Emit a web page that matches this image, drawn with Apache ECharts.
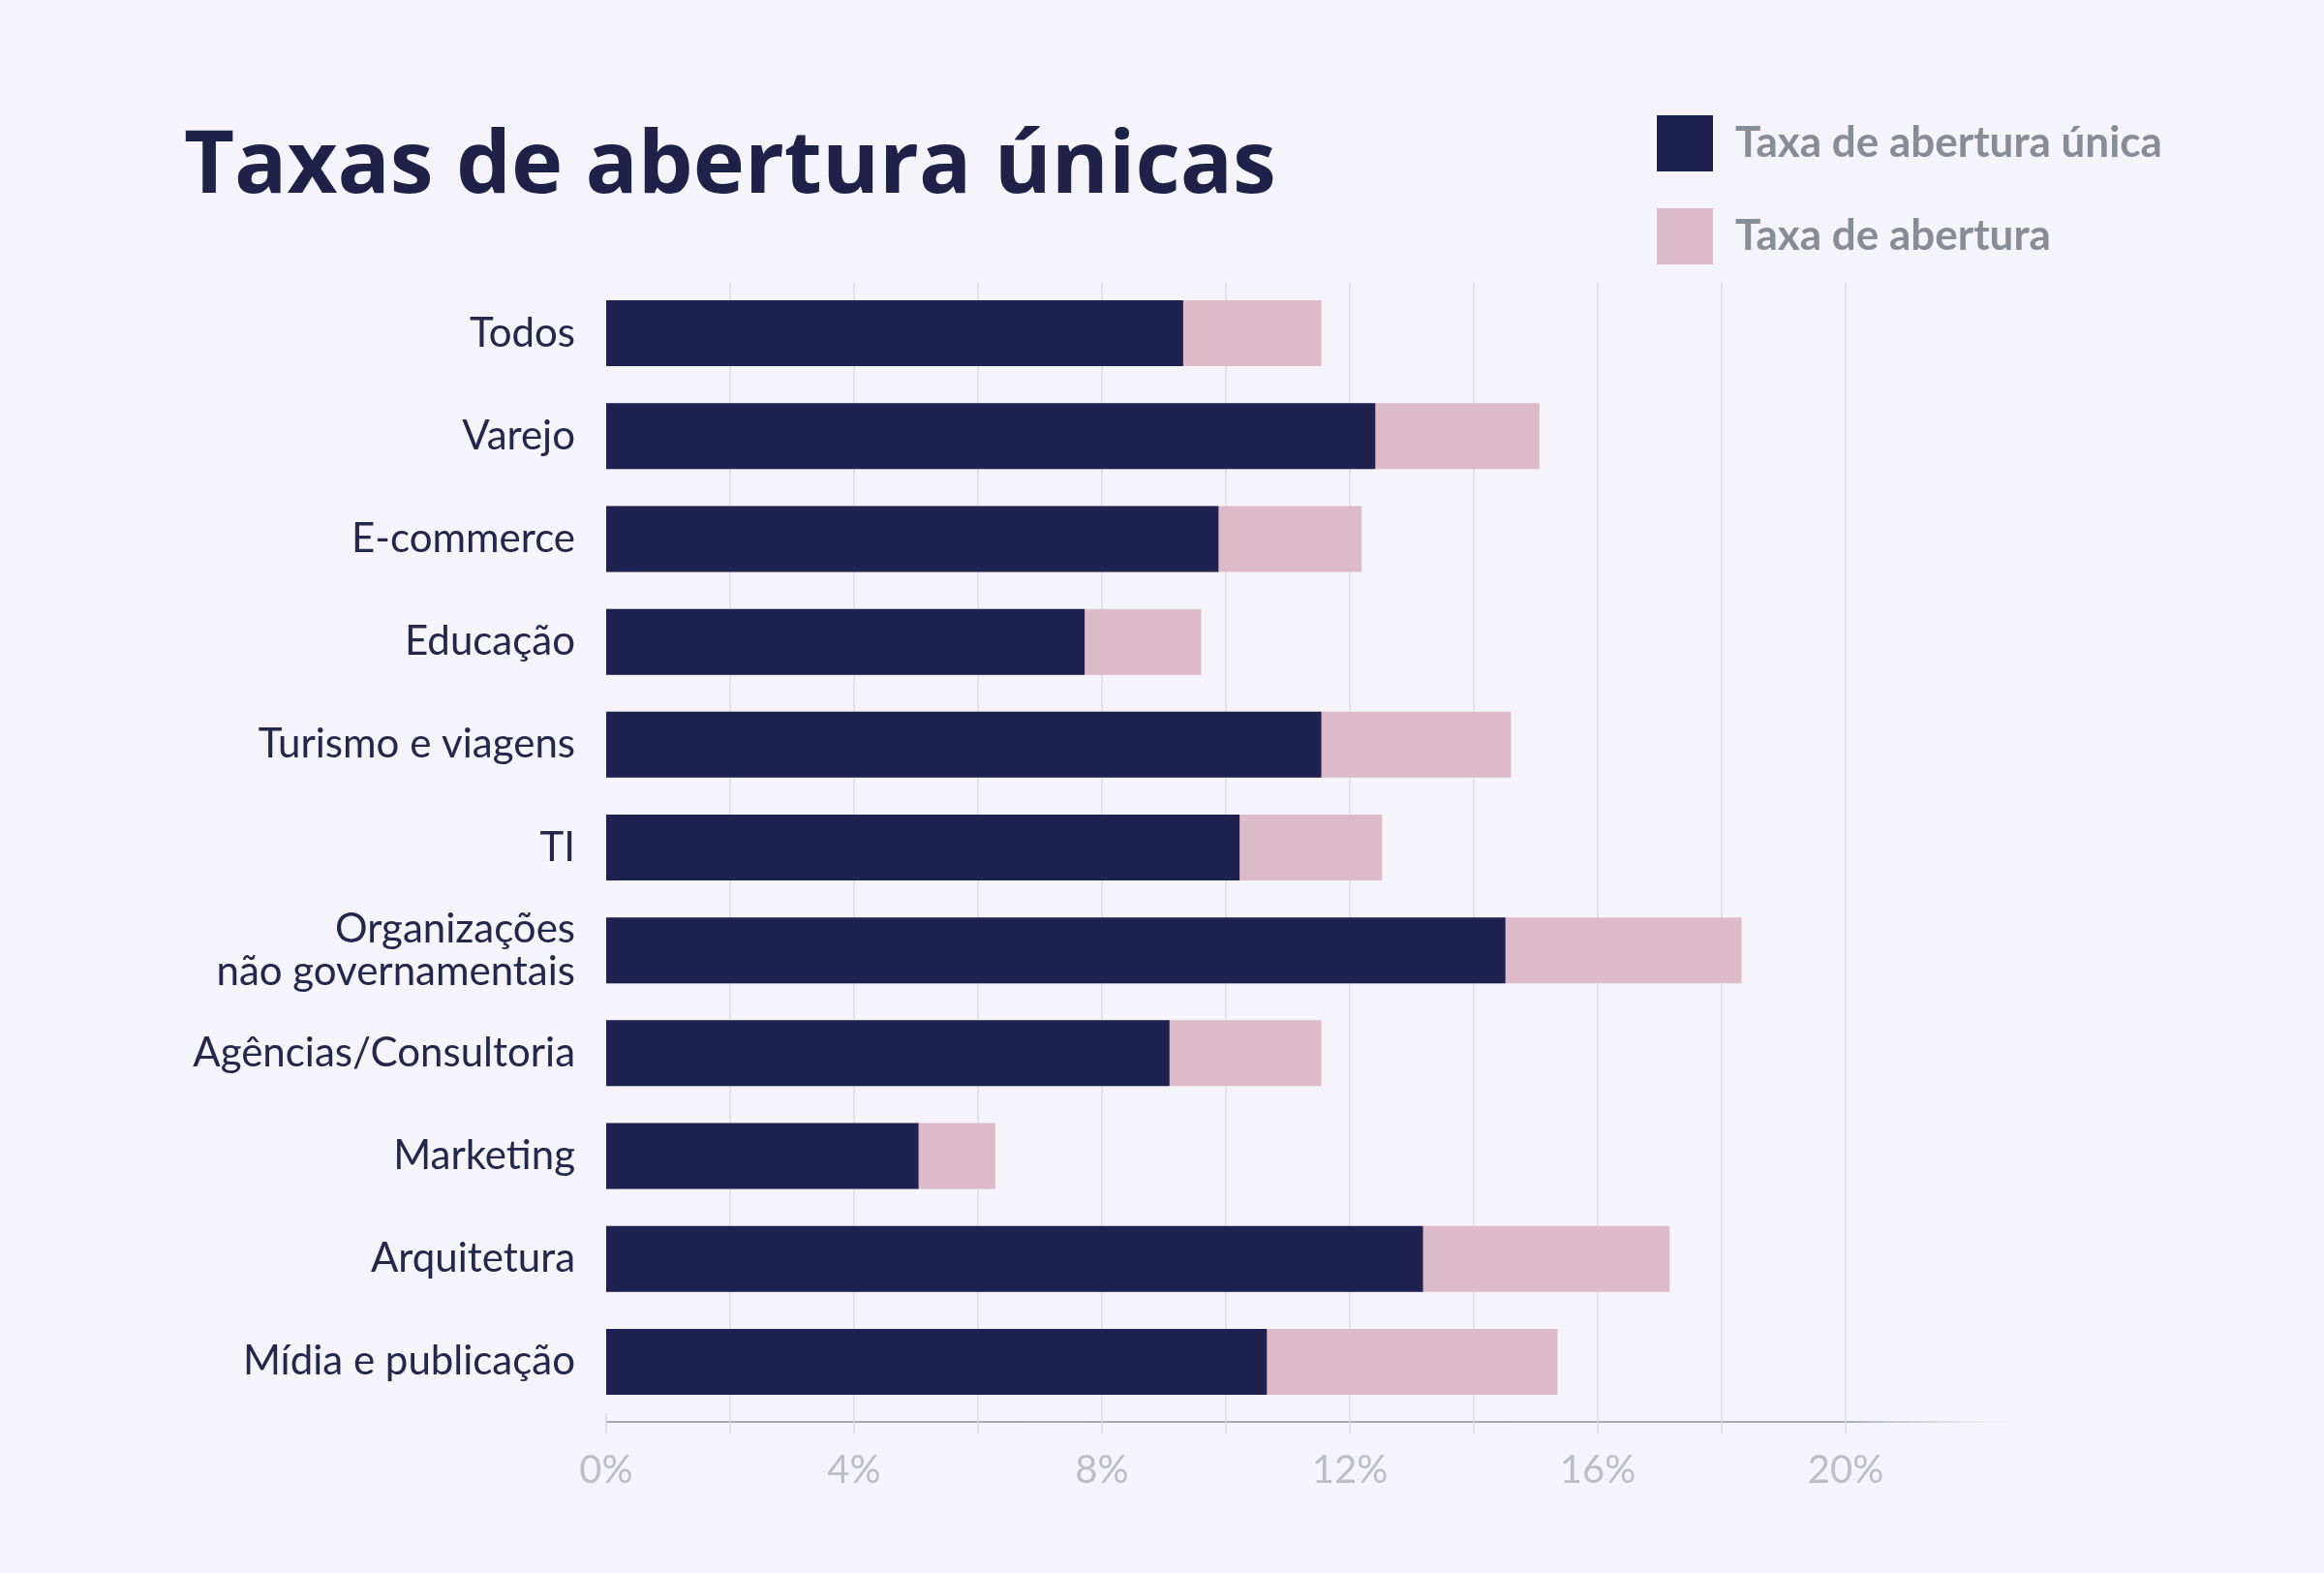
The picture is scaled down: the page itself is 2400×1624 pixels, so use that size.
<!DOCTYPE html>
<html>
<head>
<meta charset="utf-8">
<script src="https://cdn.jsdelivr.net/npm/echarts@6/dist/echarts.min.js"></script>
<style>
html,body{margin:0;padding:0;background:#f4f4fa;}
#chart{width:2400px;height:1624px;}
</style>
</head>
<body>
<div id="chart"></div>
<script>
const categories = ['Todos','Varejo','E-commerce','Educação','Turismo e viagens','TI','Organizações\nnão governamentais','Agências/Consultoria','Marketing','Arquitetura','Mídia e publicação'];
const uniqueRate = [9.31, 12.41, 9.88, 7.72, 11.54, 10.22, 14.51, 9.09, 5.04, 13.18, 10.66];
const openRate = [11.54, 15.06, 12.19, 9.60, 14.60, 12.52, 18.32, 11.54, 6.28, 17.16, 15.35];
const tickLabels = ['0%','4%','8%','12%','16%','20%'];
const seriesNames = ['Taxa de abertura única','Taxa de abertura'];

const chart = echarts.init(document.getElementById('chart'), null, {renderer:'canvas'});
const option = {
  backgroundColor:'#f4f4fa',
  animation:false,
  title:{
    text:'Taxas de abertura únicas',
    left:185, top:123,
    textStyle:{fontFamily:'Open Sans', fontWeight:'700', fontSize:90, color:'#1f2148'}
  },
  legend:{
    data:seriesNames,
    orient:'vertical',
    left:1706, top:114,
    itemWidth:58, itemHeight:58, itemGap:38,
    icon:'rect',
    textStyle:{fontFamily:'Lato', fontWeight:'bold', fontSize:44, color:'#878c97', padding:[0,0,0,18]}
  },
  grid:[
    {left:626, width:1280, top:291, height:1168},
    {left:626, width:1451, top:291, height:1177}
  ],
  xAxis:[
    {
      type:'value', gridIndex:0, min:0, max:20, interval:2,
      axisLine:{show:false},
      axisTick:{show:true, length:21, lineStyle:{color:'#d9d9e1', width:1.5}},
      splitLine:{show:true, showMinLine:false, lineStyle:{color:'#dcdce4', width:1.5}},
      axisLabel:{
        margin:39, fontFamily:'Lato', fontSize:40, color:'#bdbdc5',
        formatter:function(v){ const i = tickLabels.indexOf(v + '%'); return (v % 4 === 0 && i >= 0) ? tickLabels[i] : ''; }
      }
    },
    {
      type:'value', gridIndex:1, min:0, max:1,
      axisLine:{show:true, lineStyle:{width:2, color:{type:'linear', x:0, y:0, x2:1, y2:0,
        colorStops:[{offset:0,color:'#a2a7ad'},{offset:0.88,color:'#a9adb3'},{offset:1,color:'rgba(200,203,208,0)'}]}}},
      axisTick:{show:false}, axisLabel:{show:false}, splitLine:{show:false}
    }
  ],
  yAxis:[
    {
      type:'category', gridIndex:0, data:categories, inverse:true,
      axisLine:{show:false}, axisTick:{show:false},
      axisLabel:{margin:32, fontFamily:'Lato', fontSize:42, lineHeight:44, color:'#24264b'}
    },
    {type:'category', gridIndex:1, show:false, data:categories}
  ],
  series:[
    {
      name:seriesNames[1], type:'bar', xAxisIndex:0, yAxisIndex:0,
      data:openRate, barWidth:68,
      itemStyle:{color:'#dcbac8'}
    },
    {
      name:seriesNames[0], type:'bar', xAxisIndex:0, yAxisIndex:0,
      data:uniqueRate, barWidth:68, barGap:'-100%',
      itemStyle:{color:'#1f2150'}
    }
  ]
};
chart.setOption(option);
</script>
</body>
</html>
